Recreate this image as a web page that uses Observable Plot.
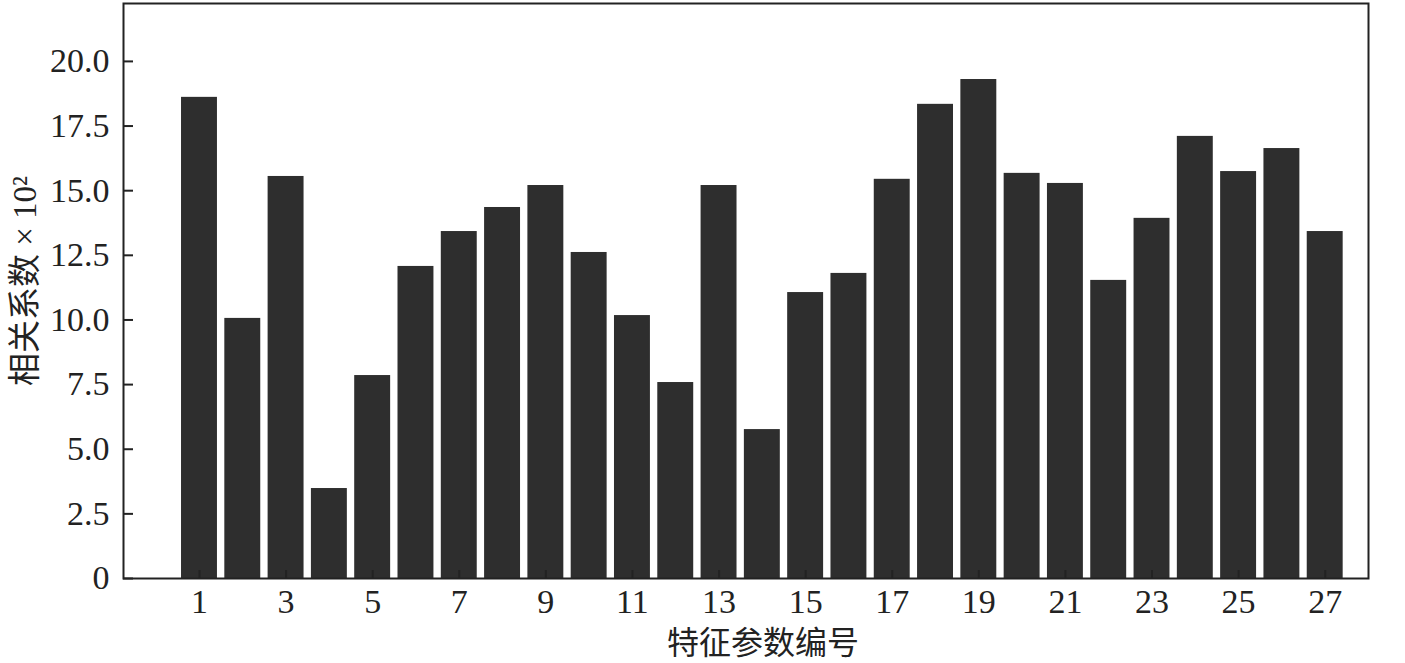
<!DOCTYPE html>
<html>
<head>
<meta charset="utf-8">
<script src="https://cdn.jsdelivr.net/npm/d3@7"></script>
<script src="https://cdn.jsdelivr.net/npm/@observablehq/plot@0.6"></script>
<style>
  html, body { margin: 0; padding: 0; background: #fff; }
  #chart svg { display: block; }
</style>
</head>
<body>
<div id="chart"></div>
<script>
const featureIds = d3.range(1, 28);
const values = [18.61, 10.06, 15.55, 3.48, 7.85, 12.07, 13.42, 14.35, 15.20, 12.61,
                10.17, 7.58, 15.20, 5.76, 11.06, 11.80, 15.44, 18.34, 19.30, 15.67,
                15.28, 11.53, 13.93, 17.10, 15.74, 16.63, 13.42];
const yTicks = [0, 2.5, 5, 7.5, 10, 12.5, 15, 17.5, 20];
const xTicks = [1, 3, 5, 7, 9, 11, 13, 15, 17, 19, 21, 23, 25, 27];
const xTitle = "特征参数编号";
const yTitle = "相关系数 × 10²";

const data = featureIds.map((id, i) => ({id, value: values[i]}));
const half = 0.415;

const chart = Plot.plot({
  width: 1405,
  height: 663,
  marginLeft: 123,
  marginRight: 37,
  marginTop: 3,
  marginBottom: 85,
  style: {fontFamily: "'Liberation Serif', 'Noto Sans CJK SC', serif", fontSize: "34px", color: "#222", background: "#fff"},
  x: {type: "linear", domain: [-0.755, 28.0]},
  y: {domain: [0, 22.24]},
  marks: [
    Plot.rectY(data, {x1: d => d.id - half, x2: d => d.id + half, y1: 0, y2: "value", fill: "#2e2e2e"}),
    Plot.axisY(yTicks, {tickSize: -10, tickPadding: 24, tickFormat: d => d === 0 ? "0" : d.toFixed(1), stroke: "#222", strokeWidth: 2, fontSize: 34, label: null}),
    Plot.axisX(xTicks, {tickSize: -8, tickPadding: 18, tickFormat: d => String(d), stroke: "#222", strokeWidth: 2, fontSize: 34, label: null}),
    Plot.text([xTitle], {frameAnchor: "bottom", dx: 17, dy: 65, fontSize: 32, fill: "#222", lineAnchor: "middle", textAnchor: "middle"}),
    Plot.text([yTitle], {frameAnchor: "left", dx: -98, dy: -10, rotate: -90, fontSize: 33, fill: "#222", lineAnchor: "middle", textAnchor: "middle"}),
    Plot.frame({stroke: "#222", strokeWidth: 2})
  ]
});
document.getElementById("chart").appendChild(chart);
</script>
</body>
</html>
